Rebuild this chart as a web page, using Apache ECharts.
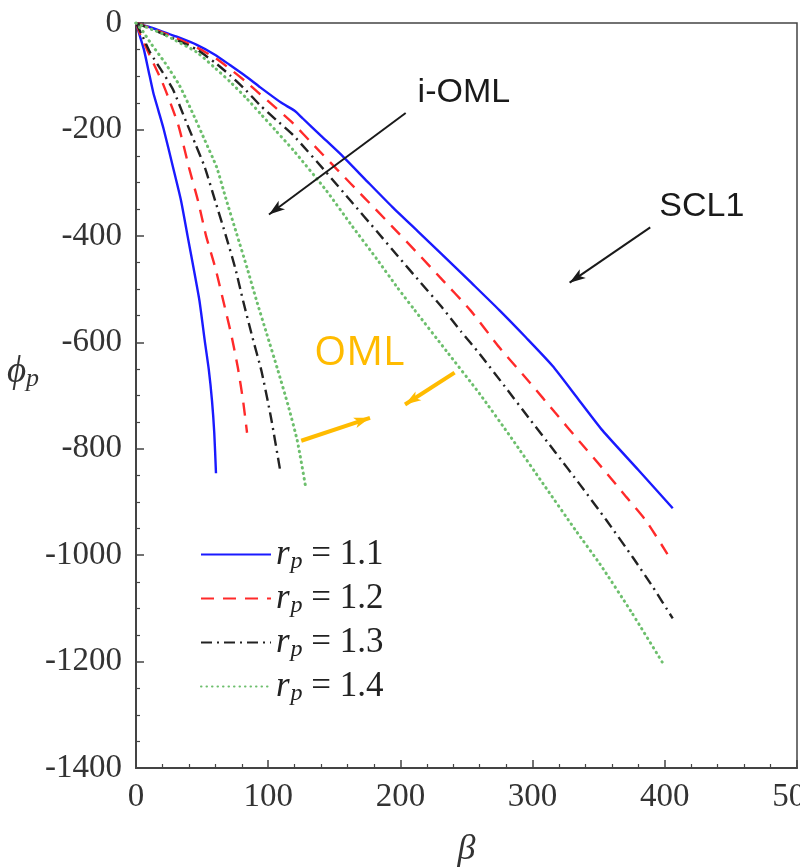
<!DOCTYPE html>
<html><head><meta charset="utf-8">
<script src="https://cdn.jsdelivr.net/npm/echarts@6/dist/echarts.min.js"></script>
<style>html,body{margin:0;padding:0;background:#fff}#c{width:800px;height:867px}</style>
</head><body><div id="c"></div>
<script>
// ---- data ----
const rpValues = ['1.1', '1.2', '1.3', '1.4'];
const xRange = [0, 500];
const yRange = [-1400, 0];

// i-OML curves (steep)
const ioml11 = [[0,0],[3,-25],[6,-50],[9.5,-90],[13,-130],[17,-165],[21,-200],[28,-271],[34,-333],[39,-400],[43.5,-460],[48,-522],[52,-597],[55,-650],[57.5,-710],[59.2,-770],[60.5,-846]];
const ioml12 = [[0,0],[3,-20],[8,-48],[14,-80],[20,-112],[26,-150],[32,-192],[36,-230],[40,-271],[47,-335],[53,-400],[60,-460],[66,-522],[72,-585],[77,-647],[81,-710],[84,-770]];
const ioml13 = [[0,0],[4,-20],[10.6,-55],[20,-92],[28,-125],[38,-186],[45,-228],[52,-271],[60,-335],[68,-400],[75,-460],[81,-522],[88,-590],[95,-655],[102,-740],[109,-840]];
const ioml14 = [[0,0],[5,-15],[12,-41],[22,-75],[33,-118],[43,-170],[52,-220],[61,-271],[68,-330],[76,-395],[84,-460],[91,-520],[99,-585],[107,-650],[115,-718],[122,-785],[128.6,-876]];

// SCL1 curves (wide)
const scl11 = [[0,0],[5,-4],[10.6,-8],[20,-16],[30,-25],[46,-41],[60,-60],[71,-79],[83,-100],[94,-121],[110,-150],[120,-165],[126,-179],[140,-212],[157,-252],[175,-298],[194,-346],[213,-391],[232,-436],[254,-489],[275,-540],[295,-591],[315,-644],[334,-705],[353,-766],[380,-840],[406,-912]];
const scl12 = [[0,0],[5,-4],[10,-9],[20,-18],[30,-28],[46,-46],[60,-66],[71,-86],[83,-110],[94,-134],[106,-160],[119,-189],[135,-231],[152,-275],[173,-329],[194,-383],[212,-430],[230,-478],[253,-540],[275,-610],[298,-676],[317,-732],[336,-788],[354,-840],[371,-891],[386,-936],[402,-998]];
const scl13 = [[0,0],[5,-5],[10,-10],[20,-20],[30,-31],[46,-50],[60,-75],[71,-98],[83,-126],[94,-155],[106,-182],[119,-211],[144,-281],[163,-336],[182,-391],[198,-438],[215,-487],[232,-536],[246,-580],[260,-622],[279,-683],[298,-745],[317,-806],[336,-868],[356,-935],[376,-1005],[391,-1060],[406,-1119]];
const scl14 = [[0,0],[5,-5],[12,-12],[20,-20],[30,-33],[46,-55],[60,-85],[71,-110],[83,-140],[94,-170],[106,-203],[119,-239],[144,-315],[163,-380],[182,-443],[198,-498],[210,-537],[235,-617],[260,-697],[284,-780],[308,-866],[333,-955],[351,-1017],[375,-1108],[399,-1205]];

// annotations (data coordinates)
const blackArrows = [[[204,-169],[100.6,-360]], [[389,-384],[328,-488]]];
const orangeArrows = [[[125,-785],[177,-742]], [[241,-657],[203.5,-717]]];
const textNotes = [['i-OML',[248,-130]], ['SCL1',[428,-346]]];
const orangeNotes = [['OML',[169,-620]]];

// ---- chart ----
const SERIF = "'Liberation Serif','DejaVu Serif',serif";
const SANS = "'Liberation Sans',Arial,sans-serif";
const names = rpValues.map(v => 'rp' + v);
const styles = [
  {color:'#1a1aff', width:2.4, type:'solid'},
  {color:'#ff2a2a', width:2.4, type:[13,9]},
  {color:'#222222', width:2.4, type:[11,5,2,5]},
  {color:'#6dbf6d', width:3, type:[0.5,5], cap:'round'}
];
const groupA = [ioml11, ioml12, ioml13, ioml14];
const groupB = [scl11, scl12, scl13, scl14];

const series = [];
[groupA, groupB].forEach(g => g.forEach((d, i) => {
  series.push({
    type:'line', name:names[i], data:d, symbol:'none', showSymbol:false,
    smooth:0.2, clip:true,
    itemStyle:{color:styles[i].color},
    lineStyle:Object.assign({}, styles[i]),
    emphasis:{disabled:true}
  });
}));

const mlData = [];
blackArrows.forEach(a => mlData.push([{coord:a[0], lineStyle:{color:'#1a1a1a', width:2, type:'solid'}, symbolSize:[17,22]}, {coord:a[1]}]));
orangeArrows.forEach(a => mlData.push([{coord:a[0], lineStyle:{color:'#ffbb00', width:4, type:'solid'}, symbolSize:[15,17]}, {coord:a[1]}]));

const mpData = [];
textNotes.forEach(t => mpData.push({coord:t[1], value:t[0], label:{show:true, formatter:t[0], fontFamily:SANS, fontSize:34, color:'#1a1a1a'}}));
orangeNotes.forEach(t => mpData.push({coord:t[1], value:t[0], label:{show:true, formatter:t[0], fontFamily:"'Open Sans','Noto Sans',sans-serif", fontSize:41, color:'#ffbb00'}}));

series.push({
  type:'scatter', name:'notes', data:[], silent:true,
  markLine:{silent:true, symbol:['none','arrow'], label:{show:false}, lineStyle:{type:'solid'}, data:mlData, animation:false},
  markPoint:{silent:true, symbol:'rect', symbolSize:1, itemStyle:{color:'rgba(0,0,0,0)'}, label:{position:'inside'}, data:mpData, animation:false}
});

const numFmt = v => String(v);

const chart = echarts.init(document.getElementById('c'), null, {renderer:'canvas'});
chart.setOption({
  animation:false,
  backgroundColor:'#fff',
  grid:{left:136, right:3, top:23, bottom:99, show:true, borderColor:'#444', borderWidth:1.5, backgroundColor:'transparent', outerBoundsMode:'none', containLabel:false},
  xAxis:{
    type:'value', min:xRange[0], max:xRange[1], interval:100,
    axisLine:{show:true, onZero:false, lineStyle:{color:'#444', width:2}},
    axisTick:{show:true, inside:true, length:8, lineStyle:{color:'#444', width:1.5}},
    minorTick:{show:true, splitNumber:5, length:4, lineStyle:{color:'#444', width:1.2}},
    splitLine:{show:false},
    axisLabel:{fontFamily:SERIF, fontSize:33, color:'#333', margin:13, formatter:numFmt, alignMaxLabel:'center', hideOverlap:false},
    name:'β', nameLocation:'middle', nameGap:64,
    nameTextStyle:{fontFamily:SERIF, fontStyle:'italic', fontSize:36, color:'#333'}
  },
  yAxis:{
    type:'value', min:yRange[0], max:yRange[1], interval:200,
    axisLine:{show:true, onZero:false, lineStyle:{color:'#444', width:2}},
    axisTick:{show:true, inside:true, length:8, lineStyle:{color:'#444', width:1.5}},
    minorTick:{show:true, splitNumber:4, length:4, lineStyle:{color:'#444', width:1.2}},
    splitLine:{show:false},
    axisLabel:{fontFamily:SERIF, fontSize:33, color:'#333', margin:14, formatter:numFmt},
    name:'{a|ϕ}{b|p}', nameLocation:'middle', nameGap:76, nameRotate:0,
    nameTextStyle:{padding:[0,0,46,0], rich:{
      a:{fontFamily:SERIF, fontStyle:'italic', fontSize:37, color:'#333'},
      b:{fontFamily:SERIF, fontStyle:'italic', fontSize:26, color:'#333', padding:[14,0,0,0]}
    }}
  },
  legend:{
    orient:'vertical', left:200, top:535, itemWidth:70, itemHeight:14, itemGap:5,
    data:names, selectedMode:false, padding:0,
    itemStyle:{color:'rgba(0,0,0,0)', borderWidth:0, opacity:0},
    formatter: n => '{i|r}{s|p}{n| = ' + n.slice(2) + '}',
    textStyle:{rich:{
      i:{fontFamily:SERIF, fontStyle:'italic', fontSize:35, color:'#222', lineHeight:34},
      s:{fontFamily:SERIF, fontStyle:'italic', fontSize:24, color:'#222', padding:[15,0,0,1], lineHeight:34},
      n:{fontFamily:SERIF, fontSize:35, color:'#222', lineHeight:34}
    }}
  },
  series: series
});
</script>
</body></html>
